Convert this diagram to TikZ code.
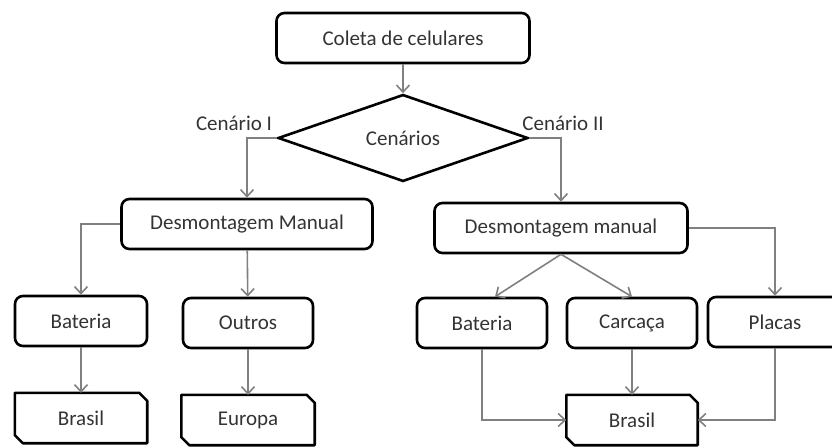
\documentclass[tikz,border=0pt]{standalone}
\usepackage{fontspec}
\setmainfont{Carlito}
\usepackage{tikz}
\usetikzlibrary{positioning}
\usetikzlibrary{calc,arrows.meta}
\usetikzlibrary{shapes.geometric}
\tikzset{
	caixa/.style={draw, line width=2.6pt, rounded corners=8pt, minimum height=50pt, inner sep=2pt},
	losango/.style={draw, diamond, line width=2.6pt, minimum width=250pt, minimum height=87pt, aspect=2.87, inner sep=0pt},
	seta/.style={draw=gray, line width=1.6pt, -{Straight Barb[length=7pt,width=13pt]}},
}
% caixa com os cantos cortados: nome, posicao, largura, texto
\newcommand\cortada[4]{
	\node[minimum width=#3, minimum height=50pt, inner sep=2pt] (#1) at #2 {#4};
	\draw[line width=2.6pt, line join=round] (#1.north west)
	    -- ($(#1.north east)+(-8pt,0)$)
	    -- ($(#1.north east)+(0,-8pt)$)
	    -- (#1.south east)
	    -- ($(#1.south west)+(8pt,0)$)
	    -- ($(#1.south west)+(0,8pt)$) -- cycle;
}

\begin{document}
\begin{tikzpicture}[x=1pt,y=-1pt,font=\fontsize{21}{25}\selectfont,text=black!80]
	\useasboundingbox (0,0) rectangle (832,447);
	\node[caixa, minimum width=253pt] (coleta) at (403,38) {Coleta de celulares};
	\node[losango] (cen) at (403,138) {Cenários};
	\node (cenI) at (234,123) {Cenário I};
	\node (cenII) at (563,123) {Cenário II};
	% cenario I
	\node[caixa, minimum width=251pt] (desL) at (247,224) {Desmontagem Manual};
	\node[caixa, minimum width=132pt] (batL) at (81,321) {Bateria};
	\node[caixa, minimum width=130pt] (outros) at (248,323) {Outros};
	\cortada{brL}{(81,418)}{132pt}{Brasil}
	\cortada{europa}{(248,420)}{133pt}{Europa}
	% cenario II
	\node[caixa, minimum width=253pt] (desR) at (561,228) {Desmontagem manual};
	\node[caixa, minimum width=130pt] (batR) at (482,323) {Bateria};
	\node[caixa, minimum width=130pt] (carc) at (632,323) {Carcaça};
	\node[caixa, minimum width=134pt] (placas) at (775,322) {Placas};
	\cortada{brR}{(632,420)}{131pt}{Brasil}
	%\draw[red] (0,0) rectangle (832,447);
	\draw[seta] (coleta) -- (cen);
	\draw[seta] (cen.west) -| (desL.north);
	\draw[seta] (cen.east) -| (desR.north);
	\draw[seta] (desL.west) -| (batL.north);
	\draw[seta] (desL) -- (outros);
	\draw[seta] (batL) -- (brL);
	\draw[seta] (outros) -- (europa);
	\draw[seta] (desR.south) -- ($(batR.north)+(13pt,0)$);
	\draw[seta] (desR.south) -- (carc.north);
	\draw[seta] (desR.east) -| (placas.north);
	\draw[seta] (batR.south) |- (brR.west);
	\draw[seta] (carc) -- (brR);
	\draw[seta] (placas.south) |- (brR.east);
\end{tikzpicture}
\end{document}
